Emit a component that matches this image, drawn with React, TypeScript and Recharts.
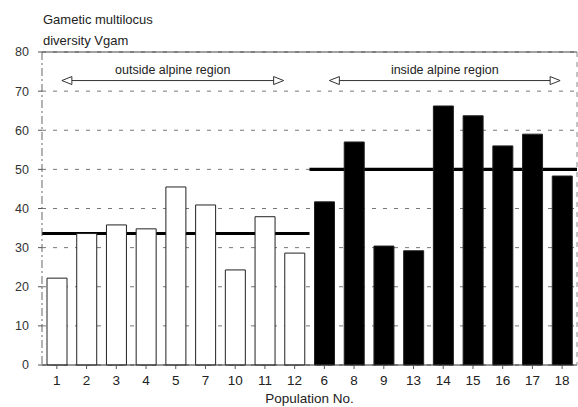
import React from 'react';
import {
  ComposedChart,
  Bar,
  Cell,
  XAxis,
  YAxis,
  CartesianGrid,
  ReferenceLine,
  ReferenceArea,
} from 'recharts';

const outsidePops = ['1', '2', '3', '4', '5', '7', '10', '11', '12'];
const outsideValues = [22.2, 33.6, 35.8, 34.8, 45.5, 40.9, 24.3, 37.9, 28.6];
const insidePops = ['6', '8', '9', '13', '14', '15', '16', '17', '18'];
const insideValues = [41.7, 57, 30.4, 29.2, 66.2, 63.7, 56, 59, 48.3];
const outsideMean = 33.6;
const insideMean = 50;
const yTicks = [0, 10, 20, 30, 40, 50, 60, 70, 80];

const data = [
  ...outsidePops.map((pop, i) => ({ pop, vgam: outsideValues[i], inside: false })),
  ...insidePops.map((pop, i) => ({ pop, vgam: insideValues[i], inside: true })),
];

const font = '"Liberation Sans", Arial, sans-serif';

// open-headed double arrow with its caption above
const Arrow = (text: string, dl: number, dr: number) => (props: any) => {
  const { x1, y1, x2 } = props;
  const l = x1 + dl;
  const r = x2 + dr;
  const y = y1;
  return (
    <g>
      <line x1={l + 10} y1={y} x2={r - 10} y2={y} stroke="#333" strokeWidth={1} />
      <polygon points={`${l},${y} ${l + 10},${y - 4} ${l + 10},${y + 4}`} fill="#fff" stroke="#333" />
      <polygon points={`${r},${y} ${r - 10},${y - 4} ${r - 10},${y + 4}`} fill="#fff" stroke="#333" />
      <text x={(l + r) / 2} y={y - 7} textAnchor="middle" fontSize={12.5} fill="#222" fontFamily={font}>
        {text}
      </text>
    </g>
  );
};

const App: React.FC = () => {
  return (
    <div style={{ position: 'absolute', left: 0, top: 0, width: 578, height: 407, background: '#fff', fontFamily: font }}>
      <div style={{ position: 'absolute', left: 43, top: 9, fontSize: 13, color: '#222', lineHeight: '21px' }}>
        Gametic multilocus
        <br />
        diversity Vgam
      </div>
      <ComposedChart
        width={578}
        height={407}
        data={data}
        margin={{ top: 52, right: 0, bottom: 0, left: 0 }}
        barCategoryGap={5}
      >
        <CartesianGrid vertical={false} stroke="#777" strokeDasharray="4 7" />
        <XAxis
          dataKey="pop"
          height={42}
          tickLine={{ stroke: '#555' }}
          tickSize={4}
          tickMargin={6}
          axisLine={{ stroke: '#333' }}
          tick={{ fontSize: 13.5, fill: '#222', fontFamily: font }}
          label={{ value: 'Population No.', position: 'insideBottom', offset: 4, fontSize: 13.5, fill: '#222', fontFamily: font }}
        />
        <YAxis
          domain={[0, 80]}
          ticks={yTicks}
          width={42}
          interval={0}
          tickSize={4}
          tickMargin={9}
          tickLine={{ stroke: '#555' }}
          axisLine={{ stroke: '#666', strokeDasharray: '8 3 2 3' }}
          tick={{ fontSize: 12.5, fill: '#333', fontFamily: font }}
        />
        <YAxis
          yAxisId="right"
          orientation="right"
          width={1}
          tick={false}
          tickLine={false}
          axisLine={{ stroke: '#888', strokeDasharray: '5 5' }}
        />
        <ReferenceLine y={80} stroke="#444" strokeWidth={1} />
        <Bar dataKey="vgam" isAnimationActive={false} stroke="#222" strokeWidth={1}>
          {data.map((d) => (
            <Cell key={d.pop} fill={d.inside ? '#000' : '#fff'} />
          ))}
        </Bar>
        <ReferenceArea x1="1" x2="12" y1={outsideMean - 0.4} y2={outsideMean + 0.4} fill="#000" fillOpacity={1} ifOverflow="visible" />
        <ReferenceArea x1="6" x2="18" y1={insideMean - 0.4} y2={insideMean + 0.4} fill="#000" fillOpacity={1} ifOverflow="visible" />
        <ReferenceLine
          segment={[{ x: '1', y: 72.7 }, { x: '12', y: 72.7 }]}
          shape={Arrow('outside alpine region', 5, -11)}
        />
        <ReferenceLine
          segment={[{ x: '6', y: 72.7 }, { x: '18', y: 72.7 }]}
          shape={Arrow('inside alpine region', 5, -2)}
        />
      </ComposedChart>
    </div>
  );
};

export default App;
